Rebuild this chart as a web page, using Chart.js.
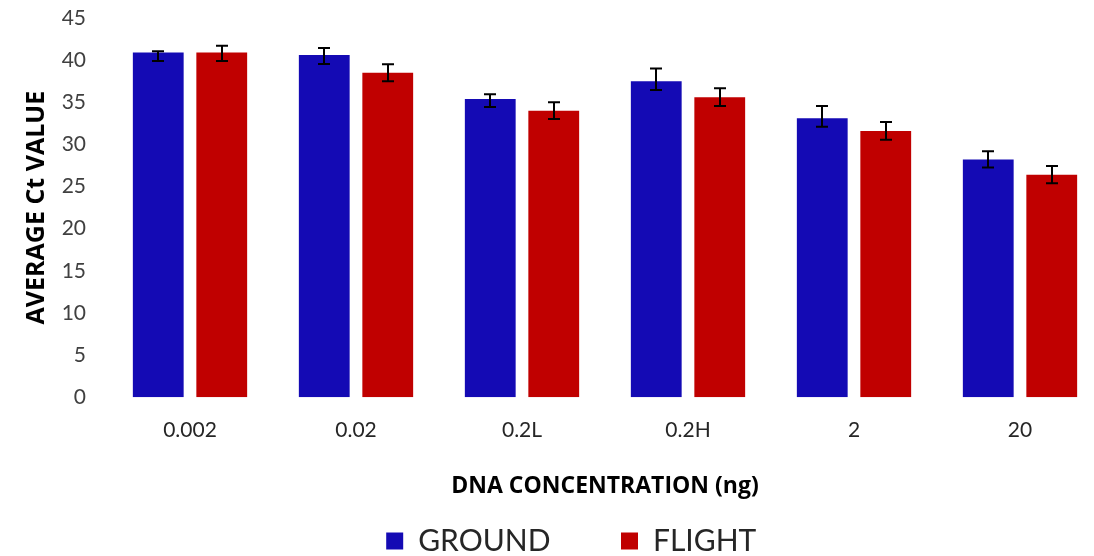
<!DOCTYPE html>
<html>
<head>
<meta charset="utf-8">
<script src="https://cdn.jsdelivr.net/npm/chart.js@4"></script>
<style>
  html, body { margin: 0; padding: 0; background: #fff; overflow: hidden; }
  #wrap { width: 1130px; height: 556px; }
</style>
</head>
<body>
<div id="wrap"><canvas id="ctChart"></canvas></div>
<script>
// Average Ct value by DNA concentration

const categories = ['0.002', '0.02', '0.2L', '0.2H', '2', '20'];
const groundValues = [40.9, 40.6, 35.4, 37.5, 33.1, 28.2];
const groundErrPlus = [0.15, 0.85, 0.55, 1.5, 1.45, 1.0];
const groundErrMinus = [1.0, 1.05, 0.95, 1.05, 1.0, 0.95];
const flightValues = [40.9, 38.5, 34.0, 35.6, 31.6, 26.4];
const flightErrPlus = [0.8, 1.0, 1.0, 1.05, 1.05, 1.05];
const flightErrMinus = [1.0, 1.0, 1.0, 1.05, 1.05, 1.0];
const yTicks = [0, 5, 10, 15, 20, 25, 30, 35, 40, 45];

const errorBars = {
    id: 'errorBars',
    afterDatasetsDraw(chart) {
        const ctx = chart.ctx;
        const y = chart.scales.y;
        const errs = [[groundErrPlus, groundErrMinus], [flightErrPlus, flightErrMinus]];
        ctx.save();
        ctx.strokeStyle = '#000000';
        ctx.lineWidth = 2;
        chart.data.datasets.forEach((ds, i) => {
            const meta = chart.getDatasetMeta(i);
            meta.data.forEach((bar, j) => {
                const v = ds.data[j];
                const top = y.getPixelForValue(v + errs[i][0][j]);
                const bottom = y.getPixelForValue(v - errs[i][1][j]);
                const x = Math.round(bar.x);
                ctx.beginPath();
                ctx.moveTo(x, top);
                ctx.lineTo(x, bottom);
                ctx.moveTo(x - 6, top);
                ctx.lineTo(x + 6, top);
                ctx.moveTo(x - 6, bottom);
                ctx.lineTo(x + 6, bottom);
                ctx.stroke();
            });
        });
        ctx.restore();
    }
};

new Chart(document.getElementById('ctChart'), {
    type: 'bar',
    data: {
        labels: categories,
        datasets: [{
            label: 'GROUND',
            data: groundValues,
            backgroundColor: '#140AB4',
            categoryPercentage: 0.765,
            barPercentage: 0.8
        }, {
            label: 'FLIGHT',
            data: flightValues,
            backgroundColor: '#C00000',
            categoryPercentage: 0.765,
            barPercentage: 0.8
        }]
    },
    options: {
        responsive: true,
        maintainAspectRatio: false,
        animation: false,
        layout: {
            padding: { top: 18, right: 27, bottom: -10, left: 0 }
        },
        plugins: {
            legend: {
                position: 'bottom',
                fullSize: false,
                labels: {
                    boxWidth: 17,
                    boxHeight: 17,
                    padding: 3,
                    color: '#262626',
                    font: { size: 30, family: "Lato, sans-serif" },
                    generateLabels(chart) {
                        const items = Chart.defaults.plugins.legend.labels.generateLabels(chart);
                        // wider gap between entries, legend sits left of the plot centre
                        items[0].text += '\u2003\u2003\u2003';
                        items[1].text += '\u2003\u2003\u2003';
                        return items;
                    }
                }
            },
            tooltip: { enabled: false }
        },
        scales: {
            x: {
                grid: { display: false, drawTicks: false },
                border: { display: false },
                ticks: {
                    color: '#262626',
                    padding: 20,
                    font: { size: 21, family: "Lato, sans-serif" }
                },
                title: {
                    display: true,
                    text: 'DNA CONCENTRATION (ng)',
                    color: '#000000',
                    padding: { top: 10, bottom: 23 },
                    font: { size: 23, weight: 'bold', family: "'Open Sans', sans-serif" }
                }
            },
            y: {
                min: 0,
                max: 45,
                afterBuildTicks(scale) {
                    scale.ticks = yTicks.map(v => ({ value: v }));
                },
                afterFit(scale) {
                    scale.width = 107;
                    scale.paddingTop = 0;
                    scale.paddingBottom = 0;
                },
                grid: { display: false, drawTicks: false },
                border: { display: false },
                ticks: {
                    color: '#404040',
                    padding: 21,
                    font: { size: 21, family: "Lato, sans-serif" }
                },
                title: {
                    display: true,
                    text: 'AVERAGE Ct VALUE',
                    color: '#000000',
                    padding: { top: 22, bottom: 0 },
                    font: { size: 25, weight: 'bold', family: "'Open Sans', sans-serif" }
                }
            }
        }
    },
    plugins: [errorBars]
});
</script>
</body>
</html>
